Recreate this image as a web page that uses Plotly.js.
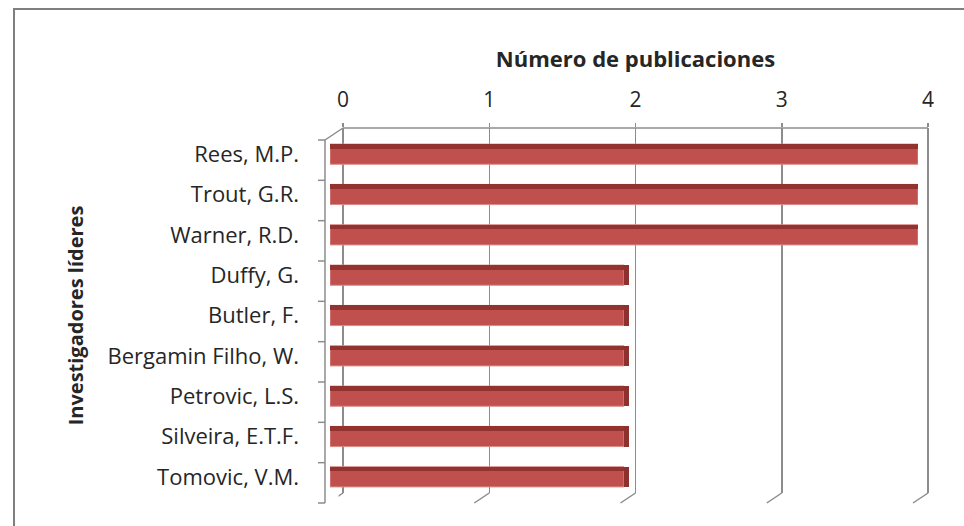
<!DOCTYPE html>
<html>
<head>
<meta charset="utf-8">
<script src="https://cdn.plot.ly/plotly-3.0.1.min.js"></script>
<style>html,body{margin:0;padding:0;background:#fff;}#chart{width:964px;height:526px;}</style>
</head>
<body>
<div id="chart"></div>
<script>
const investigators = ["Rees, M.P.", "Trout, G.R.", "Warner, R.D.", "Duffy, G.", "Butler, F.", "Bergamin Filho, W.", "Petrovic, L.S.", "Silveira, E.T.F.", "Tomovic, V.M."];
const publications = [4, 4, 4, 2, 2, 2, 2, 2, 2];
const tickValues = [0, 1, 2, 3, 4];
const tickLabels = ["0", "1", "2", "3", "4"];

const W = 964, H = 526;
const fx = p => p / W;
const fy = p => 1 - p / H;
const FONT = "Open Sans";
const TXT = "#262626";
const GRID = "#8c8c8c";

// bar geometry (style)
const barWidth = 0.5, topWidth = 0.11, depth = 0.035;

// back-wall axis: value 0 at 343px, value 4 at 928px, small padding so edge grid lines show
const pxPerUnit = (928 - 343) / 4;
const pad = 0.03;

const traces = [
  // back-wall grid subplot (drawn first, behind the bars)
  { type: "scatter", mode: "markers", x: [], y: [], xaxis: "x", yaxis: "y",
    showlegend: false, hoverinfo: "skip" },
  { type: "bar", orientation: "h", y: investigators, x: publications,
    width: barWidth, offset: -barWidth / 2,
    marker: { color: "#C0504D", line: { color: "#D98C8A", width: 1 } },
    xaxis: "x2", yaxis: "y2", hoverinfo: "x+y", showlegend: false },
  { type: "bar", orientation: "h", y: investigators, x: publications,
    width: topWidth, offset: -barWidth / 2,
    marker: { color: "#93332F", line: { width: 0 } },
    xaxis: "x2", yaxis: "y2", hoverinfo: "skip", showlegend: false },
  { type: "bar", orientation: "h", y: investigators, base: publications,
    x: publications.map(() => depth),
    width: barWidth, offset: -barWidth / 2,
    marker: { color: "#8E302D", line: { width: 0 } },
    xaxis: "x2", yaxis: "y2", hoverinfo: "skip", showlegend: false }
];

// decorative 3D frame lines
const shapes = [];
tickValues.forEach(t => {
  shapes.push({ type: "line", xref: "x", yref: "paper", layer: "below",
    x0: t, y0: fy(493), x1: t - 15 / pxPerUnit, y1: fy(503),
    line: { color: GRID, width: 1.5 } });
});
shapes.push({ type: "line", xref: "paper", yref: "paper", layer: "below",
  x0: fx(343), y0: fy(128), x1: fx(325), y1: fy(140), line: { color: GRID, width: 1.5 } });
shapes.push({ type: "line", xref: "paper", yref: "paper", layer: "below",
  x0: fx(325), y0: fy(140), x1: fx(325), y1: fy(503), line: { color: GRID, width: 1.5 } });
for (let k = 0; k <= investigators.length; k++) {
  const yy = 140 + k * (503 - 140) / investigators.length;
  shapes.push({ type: "line", xref: "paper", yref: "paper", layer: "below",
    x0: fx(318), y0: fy(yy), x1: fx(325), y1: fy(yy), line: { color: GRID, width: 1.5 } });
}
shapes.push({ type: "rect", xref: "paper", yref: "paper",
  x0: fx(14), y0: fy(9), x1: fx(990), y1: fy(560), line: { color: "#7f7f7f", width: 2 }, layer: "below" });

const layout = {
  width: W, height: H,
  margin: { l: 0, r: 0, t: 0, b: 0 },
  paper_bgcolor: "#ffffff", plot_bgcolor: "rgba(0,0,0,0)",
  font: { family: FONT, size: 22, color: TXT },
  showlegend: false,
  bargap: 0, barmode: "overlay",
  // value axis shown on the back wall (top), with grid
  xaxis: { domain: [fx(343 - pad * pxPerUnit), fx(928 + pad * pxPerUnit)], range: [-pad, 4 + pad],
    anchor: "y", side: "top",
    tickmode: "array", tickvals: tickValues, ticktext: tickLabels,
    showgrid: true, gridcolor: GRID, gridwidth: 1.5, zeroline: false,
    showline: false, ticks: "outside", ticklen: 4, tickcolor: GRID, tickwidth: 1.5,
    ticklabelstandoff: 8, tickfont: { family: FONT, size: 21, color: TXT },
    title: { text: "Número de publicaciones", font: { family: FONT, size: 22, color: TXT, weight: "bold" }, standoff: 10 } },
  yaxis: { domain: [fy(493), fy(128)], anchor: "x", range: [0, 1],
    showgrid: false, zeroline: false, showline: false, showticklabels: false, ticks: "" },
  // bars (front)
  xaxis2: { domain: [fx(330), fx(918)], range: [0, 4], anchor: "y2",
    showgrid: false, zeroline: false, showline: false, showticklabels: false, ticks: "" },
  yaxis2: { domain: [fy(497), fy(134)], anchor: "x2", type: "category",
    autorange: "reversed", showgrid: false, zeroline: false, showline: false, ticks: "",
    ticklabelstandoff: 30, tickfont: { family: FONT, size: 22, color: TXT },
    title: { text: "Investigadores líderes", font: { family: FONT, size: 20, color: TXT, weight: "bold" }, standoff: 18 } },
  shapes: shapes.concat([
    { type: "line", xref: "x", yref: "paper", layer: "below",
      x0: 0, x1: 4, y0: fy(128), y1: fy(128), line: { color: GRID, width: 1.5 } }
  ])
};

Plotly.newPlot("chart", traces, layout, { displayModeBar: false, staticPlot: true });
</script>
</body>
</html>
